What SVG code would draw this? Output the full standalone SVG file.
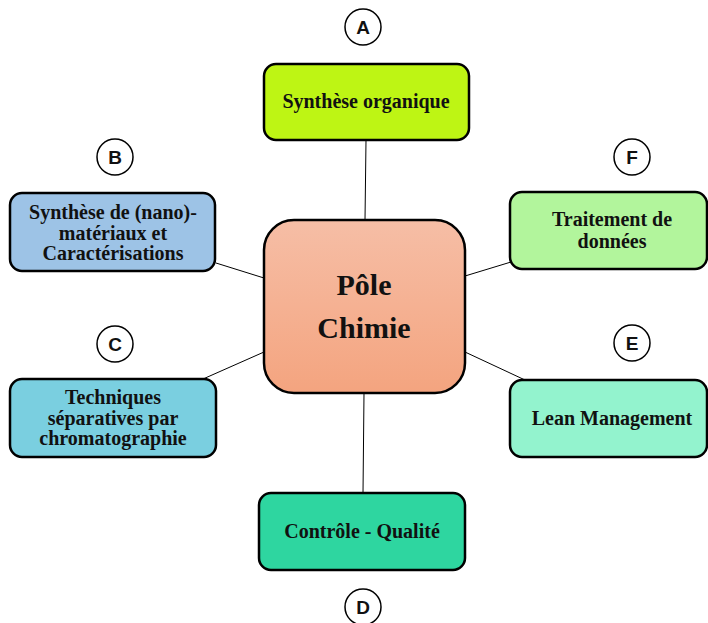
<svg xmlns="http://www.w3.org/2000/svg" width="708" height="623" viewBox="0 0 708 623">
<defs>
<linearGradient id="gc" x1="0" y1="0" x2="0" y2="1">
<stop offset="0" stop-color="#F6BEA6"/>
<stop offset="1" stop-color="#F4A47F"/>
</linearGradient>
<style>
.box{stroke:#000;stroke-width:2.5}
.t{font-family:"Liberation Serif","Times New Roman",serif;font-weight:bold;font-size:20px;fill:#111;text-anchor:middle}
.tc{font-family:"Liberation Serif","Times New Roman",serif;font-weight:bold;font-size:30px;fill:#111;text-anchor:middle}
.lc{fill:#fff;stroke:#000;stroke-width:1.5}
.l{font-family:"Liberation Sans",Arial,sans-serif;font-weight:bold;font-size:19px;fill:#111;text-anchor:middle}
.c{stroke:#000;stroke-width:1;fill:none}
</style>
</defs>
<rect width="708" height="623" fill="#fff"/>
<g id="connectors">
<line class="c" x1="366" y1="140" x2="365" y2="220"/>
<line class="c" x1="216" y1="263" x2="264" y2="278"/>
<line class="c" x1="465" y1="276" x2="511" y2="262"/>
<line class="c" x1="203" y1="379" x2="264" y2="352"/>
<line class="c" x1="465" y1="352" x2="525" y2="380"/>
<line class="c" x1="364" y1="393" x2="363" y2="493"/>
</g>
<g id="center">
<rect class="box" x="264" y="220" width="201" height="173" rx="30" fill="url(#gc)"/>
<text class="tc" x="364" y="295">Pôle</text>
<text class="tc" x="364" y="338">Chimie</text>
</g>
<g id="nodeA">
<rect class="box" x="264" y="64" width="205" height="76" rx="12" fill="#BEF514"/>
<text class="t" x="366" y="108">Synthèse organique</text>
</g>
<g id="nodeB">
<rect class="box" x="10" y="193" width="205" height="78" rx="12" fill="#9DC3E6"/>
<text class="t" x="113" y="219">Synthèse de (nano)-</text>
<text class="t" x="113" y="240">matériaux et</text>
<text class="t" x="113" y="260">Caractérisations</text>
</g>
<g id="nodeC">
<rect class="box" x="10" y="379" width="206" height="78" rx="12" fill="#7ACFE0"/>
<text class="t" x="113" y="404">Techniques</text>
<text class="t" x="113" y="425">séparatives par</text>
<text class="t" x="113" y="445">chromatographie</text>
</g>
<g id="nodeD">
<rect class="box" x="259" y="493" width="206" height="77" rx="12" fill="#2ED6A0"/>
<text class="t" x="362" y="538">Contrôle - Qualité</text>
</g>
<g id="nodeE">
<rect class="box" x="510" y="380" width="197" height="77" rx="12" fill="#93F3CE"/>
<text class="t" x="612" y="425">Lean Management</text>
</g>
<g id="nodeF">
<rect class="box" x="510" y="192" width="197" height="77" rx="12" fill="#B2F59C"/>
<text class="t" x="612" y="226">Traitement de</text>
<text class="t" x="612" y="248">données</text>
</g>
<g id="labelA"><circle class="lc" cx="363" cy="27" r="18"/><text class="l" x="363" y="34">A</text></g>
<g id="labelB"><circle class="lc" cx="115" cy="157" r="18"/><text class="l" x="115" y="164">B</text></g>
<g id="labelC"><circle class="lc" cx="115" cy="344" r="18"/><text class="l" x="115" y="351">C</text></g>
<g id="labelD"><circle class="lc" cx="363" cy="607" r="18"/><text class="l" x="363" y="614">D</text></g>
<g id="labelE"><circle class="lc" cx="632" cy="343" r="18"/><text class="l" x="632" y="350">E</text></g>
<g id="labelF"><circle class="lc" cx="632" cy="157" r="18"/><text class="l" x="632" y="164">F</text></g>
</svg>
